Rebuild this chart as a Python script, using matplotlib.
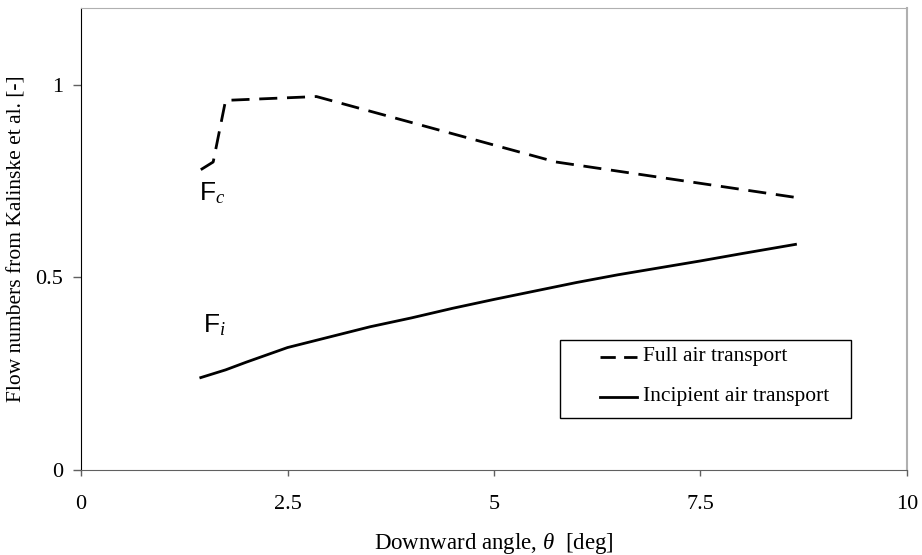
import matplotlib
matplotlib.use("Agg")
import matplotlib.pyplot as plt
from matplotlib.patches import Rectangle
from matplotlib.lines import Line2D

plt.rcParams['font.family'] = ['Liberation Serif', 'DejaVu Serif']
plt.rcParams['mathtext.fontset'] = 'custom'
plt.rcParams['mathtext.rm'] = 'Liberation Serif'
plt.rcParams['mathtext.it'] = 'Liberation Serif:italic'
plt.rcParams['mathtext.sf'] = 'Liberation Sans'

# Full air transport (dashed)
x_full = [1.45, 1.6, 1.75, 2.85, 5.75, 8.65]
y_full = [0.78, 0.80, 0.96, 0.97, 0.80, 0.708]

# Incipient air transport (solid)
x_inc = [1.45, 1.75, 2.0, 2.5, 3.0, 3.5, 4.0, 4.5, 5.0, 5.5, 6.0, 6.5, 7.0, 7.5, 8.0, 8.65]
y_inc = [0.24, 0.26, 0.28, 0.318, 0.345, 0.372, 0.395, 0.42, 0.443, 0.465, 0.487, 0.507, 0.525, 0.543, 0.562, 0.586]

series_labels = ['Full air transport', 'Incipient air transport']
xticks = [0, 2.5, 5, 7.5, 10]
xticklabels = ['0', '2.5', '5', '7.5', '10']
yticks = [0, 0.5, 1]
yticklabels = ['0', '0.5', '1']

fig = plt.figure(figsize=(9.22, 5.55), dpi=100)
ax = fig.add_axes([0.0879, 0.1532, 0.8958, 0.8324])

dash = (0, (6.5, 3.5))
ax.plot(x_full, y_full, color='black', lw=2, linestyle=dash)
ax.plot(x_inc, y_inc, color='black', lw=2, linestyle='-')

ax.set_xlim(0, 10)
ax.set_ylim(0, 1.2)
ax.set_xticks(xticks)
ax.set_xticklabels(xticklabels)
ax.set_yticks(yticks)
ax.set_yticklabels(yticklabels)
ax.tick_params(axis='both', labelsize=16, direction='out', width=1, color='#606060')
ax.tick_params(axis='x', length=4, pad=14)
ax.tick_params(axis='y', length=6, pad=7)

ax.spines['left'].set_color('black')
ax.spines['bottom'].set_color('#606060')
ax.spines['top'].set_color('#b0b0b0')
ax.spines['right'].set_color('#b0b0b0')
ax.spines['right'].set_linewidth(1.5)

ax.set_xlabel(r'Downward angle, $\theta$  [deg]', fontsize=16.5, labelpad=12)
ax.set_ylabel('Flow numbers from Kalinske et al. [-]', fontsize=15.5, labelpad=6)

ax.text(1.43, 0.72, r'$\mathsf{F}_{\mathit{c}}$', fontsize=19, ha='left', va='center')
ax.text(1.48, 0.375, r'$\mathsf{F}_{\mathit{i}}$', fontsize=19, ha='left', va='center')

# legend (drawn manually to match box proportions)
T = ax.transAxes
ax.add_patch(Rectangle((0.58, 0.1126), 0.352, 0.1684, transform=T, fill=False,
                       edgecolor='black', lw=1.0, zorder=5))
rows_y = [0.2446, 0.158]
styles = [(0, (5.5, 3.0)), '-']
for yy, ls, lab in zip(rows_y, styles, series_labels):
    ax.add_line(Line2D([0.6283, 0.6731], [yy, yy], transform=T, color='black',
                       lw=2, linestyle=ls))
    ax.text(0.6804, yy, lab, transform=T, fontsize=15.5, ha='left', va='center')

fig.savefig('out.png', dpi=100)
